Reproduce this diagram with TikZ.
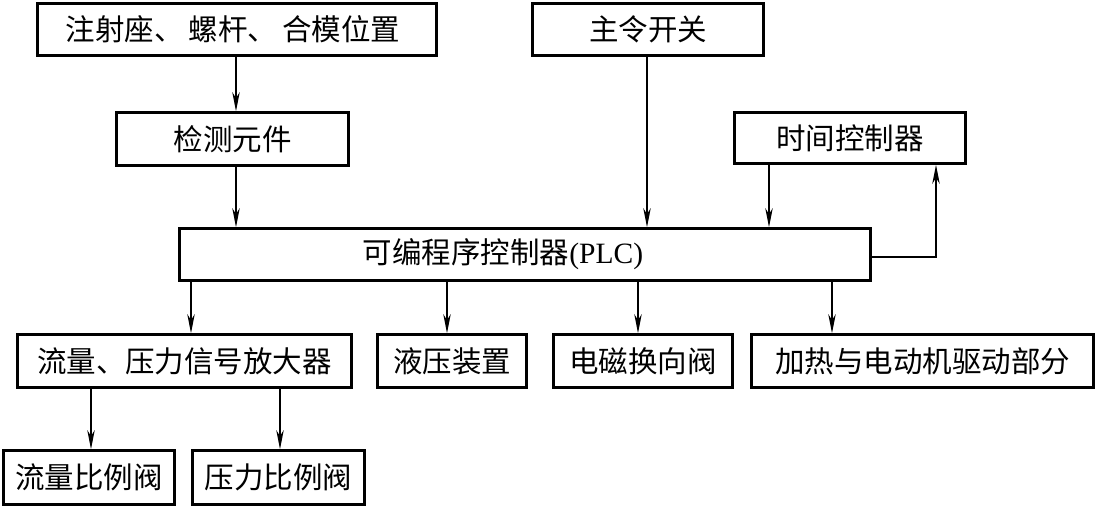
\documentclass[tikz,border=0pt]{standalone}
\usepackage{fontspec}
\setmainfont{Liberation Serif}
\newfontfamily\cjk{Noto Sans CJK SC}
\usetikzlibrary{arrows.meta}
\begin{document}
\begin{tikzpicture}[x=1pt,y=-1pt,
  box/.style={draw, line width=2.8pt, rectangle, inner sep=0pt, font=\fontsize{29.5}{34}\selectfont},
  arr/.style={line width=1.1pt, -{Stealth[length=19pt,width=7.5pt,inset=6pt]}}]
\fill[white] (0,0) rectangle (1098,507);
\useasboundingbox (0,0) rectangle (1098,507);
% nodes
\node[box, minimum width=399pt, minimum height=52pt] (A) at (237,29.5) {\cjk 注射座、\hspace{5pt}螺杆、\hspace{5pt}合模位置\rule{8pt}{0pt}};
\node[box, minimum width=232pt, minimum height=53pt] (B) at (232.5,139) {\cjk 检测元件};
\node[box, minimum width=231pt, minimum height=52pt] (C) at (648,29.5) {\cjk 主令开关};
\node[box, minimum width=231pt, minimum height=51pt] (D) at (850,138) {\cjk 时间控制器};
\node[box, minimum width=691pt, minimum height=52pt] (P) at (525,254.5) {{\cjk 可编程序控制器}(PLC)\rule{44pt}{0pt}};
\node[box, minimum width=334pt, minimum height=53pt] (E) at (184.5,361) {\cjk 流量、压力信号放大器};
\node[box, minimum width=149pt, minimum height=53pt] (F) at (452,361) {\cjk 液压装置};
\node[box, minimum width=179pt, minimum height=53pt] (G) at (643,361) {\cjk 电磁换向阀};
\node[box, minimum width=342pt, minimum height=53pt] (H) at (922.5,361) {\cjk 加热与电动机驱动部分};
\node[box, minimum width=171pt, minimum height=54pt] (I) at (89,477.5) {\cjk 流量比例阀};
\node[box, minimum width=172pt, minimum height=54pt] (J) at (278.5,477.5) {\cjk 压力比例阀};
% connectors
\draw[arr] (A.south -| 236,0) -- (B.north -| 236,0);
\draw[arr] (B.south -| 236,0) -- (P.north -| 236,0);
\draw[arr] (C.south -| 647,0) -- (P.north -| 647,0);
\draw[arr] (D.south -| 769,0) -- (P.north -| 769,0);
\draw[arr] (P.east |- 0,257) -| (D.south -| 936,0);
\draw[arr] (P.south -| 191,0) -- (E.north -| 191,0);
\draw[arr] (P.south -| 447,0) -- (F.north -| 447,0);
\draw[arr] (P.south -| 638,0) -- (G.north -| 638,0);
\draw[arr] (P.south -| 832,0) -- (H.north -| 832,0);
\draw[arr] (E.south -| 91,0) -- (I.north -| 91,0);
\draw[arr] (E.south -| 280,0) -- (J.north -| 280,0);
\end{tikzpicture}
\end{document}
